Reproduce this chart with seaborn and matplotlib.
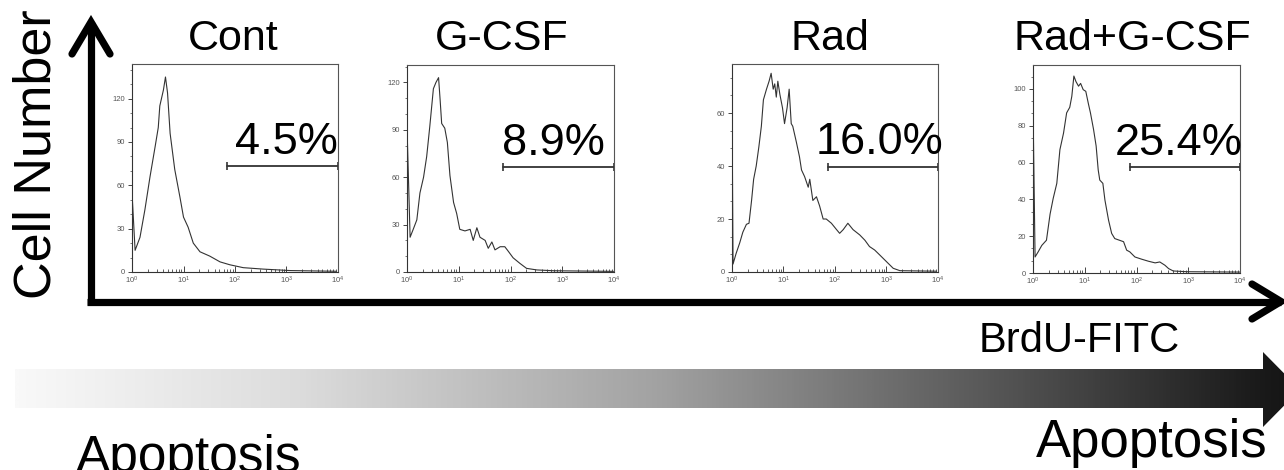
import numpy as np
import pandas as pd
import matplotlib
matplotlib.use("Agg")
import matplotlib.pyplot as plt
from matplotlib.colors import LinearSegmentedColormap
from matplotlib.path import Path
from matplotlib.patches import PathPatch
import seaborn as sns

# ---------------------------------------------------------------- data
groups = ["Cont", "G-CSF", "Rad", "Rad+G-CSF"]
percent_labels = ["4.5%", "8.9%", "16.0%", "25.4%"]

# BrdU-FITC histograms: position in decades (log10 intensity) and cell counts
cont_dec = [0.00, 0.06, 0.155, 0.25, 0.35, 0.45, 0.51, 0.54, 0.61, 0.65, 0.69, 0.74,
            0.83, 0.93, 1.00, 1.09, 1.19, 1.32, 1.51, 1.71, 1.90, 2.16, 2.55, 3.07, 3.97]
cont_cnt = [55, 15, 24, 43, 66, 87, 100, 115, 126, 135, 124, 96,
            71, 52, 38, 31, 20, 14, 11, 7, 5, 3, 2, 1, 0.5]

gcsf_dec = [0.00, 0.06, 0.12, 0.19, 0.25, 0.32, 0.38, 0.44, 0.51, 0.56, 0.61, 0.64,
            0.67, 0.73, 0.78, 0.83, 0.90, 0.96, 1.02, 1.12, 1.22, 1.28, 1.35, 1.41,
            1.51, 1.57, 1.64, 1.70, 1.80, 1.89, 1.96, 2.05, 2.18, 2.31, 2.51, 2.83, 3.99]
gcsf_cnt = [92, 22, 27, 33, 50, 60, 73, 92, 116, 120, 123, 109,
            94, 91, 82, 61, 44, 37, 27, 26, 27, 20, 28, 22,
            20, 15, 19, 14, 16, 16, 13, 9, 5.5, 2.3, 1.3, 0.8, 0.4]

rad_dec = [0.00, 0.02, 0.08, 0.15, 0.21, 0.28, 0.33, 0.38, 0.42, 0.47, 0.52, 0.57,
           0.61, 0.67, 0.72, 0.76, 0.80, 0.83, 0.86, 0.89, 0.93, 0.98, 1.02, 1.07,
           1.11, 1.15, 1.18, 1.25, 1.31, 1.35, 1.41, 1.48, 1.51, 1.57, 1.64, 1.70,
           1.77, 1.83, 1.93, 2.03, 2.09, 2.16, 2.25, 2.35, 2.48, 2.58, 2.67, 2.77,
           2.87, 3.00, 3.13, 3.26, 3.97]
rad_cnt = [65, 3, 7, 11, 15, 18, 18.4, 27, 35, 40, 47, 55,
           65, 69, 72, 75, 69, 71, 66, 72, 67, 62, 56, 62,
           69, 56, 55, 49, 43.5, 38.5, 36, 32, 35, 27, 28.4, 25,
           20, 20, 18.4, 16, 14.6, 16, 18.4, 16, 14, 12, 9.6, 8.3,
           6.4, 3.9, 1.4, 0.5, 0.3]

radg_dec = [0.00, 0.04, 0.10, 0.17, 0.26, 0.33, 0.39, 0.46, 0.52, 0.59, 0.65, 0.71,
            0.75, 0.79, 0.83, 0.88, 0.92, 0.97, 1.02, 1.07, 1.11, 1.17, 1.22, 1.26,
            1.29, 1.35, 1.39, 1.46, 1.52, 1.58, 1.67, 1.75, 1.81, 1.87, 1.97, 2.10,
            2.23, 2.36, 2.45, 2.55, 2.62, 2.71, 2.97, 4.00]
radg_cnt = [91, 8.7, 11.5, 15, 17.8, 32, 40.5, 48.7, 67, 76, 87, 90,
            96, 107, 104, 101.5, 103, 99.6, 98.7, 92, 87, 78, 69, 56,
            50.5, 48.7, 39.6, 28.7, 21.5, 18.7, 17.8, 17, 12.4, 11.5, 8.7, 7.5,
            6.4, 5.5, 6, 4.2, 2.4, 1.1, 0.7, 0.5]

hist_dec = [cont_dec, gcsf_dec, rad_dec, radg_dec]
hist_cnt = [cont_cnt, gcsf_cnt, rad_cnt, radg_cnt]

# positive gate: lower bound (intensity) and drawing level (counts)
gate_start = [69, 72, 72, 74]
gate_end = 10000
gate_level = [73.5, 66.7, 39.6, 57.6]

y_max = [144, 131, 78.5, 113]
y_ticks = [[0, 30, 60, 90, 120], [0, 30, 60, 90, 120],
           [0, 20, 40, 60], [0, 20, 40, 60, 80, 100]]
x_ticks = [1, 10, 100, 1000, 10000]
x_tick_labels = [r"$10^0$", r"$10^1$", r"$10^2$", r"$10^3$", r"$10^4$"]

# ---------------------------------------------------------------- layout
W, H = 1284, 470
# panel boxes in pixels: left, top, right, bottom
panel_px = [(132, 64, 338, 272), (407, 65, 614, 272),
            (732, 64, 938, 272), (1033, 65, 1240, 273)]
title_x = [233, 502, 830, 1132]
pct_right = [1.0, 0.957, 1.025, 1.015]

sns.set_style("white")
plt.rcParams["font.family"] = ["Liberation Sans", "DejaVu Sans"]
plt.rcParams["text.color"] = "black"
plt.rcParams["mathtext.fontset"] = "custom"
plt.rcParams["mathtext.rm"] = "Liberation Sans"
plt.rcParams["mathtext.it"] = "Liberation Sans"

fig = plt.figure(figsize=(W / 100, H / 100), dpi=100)

# full-figure canvas for the outer axes, arrows and labels (pixel units)
canvas = fig.add_axes([0, 0, 1, 1])
canvas.set_xlim(0, W)
canvas.set_ylim(H, 0)
canvas.axis("off")

# outer axis arrows
lw_axis = 5.2
canvas.plot([91, 91], [305, 22], color="black", lw=lw_axis, solid_capstyle="butt")
canvas.plot([72, 91, 110], [54, 22, 54], color="black", lw=lw_axis,
            solid_joinstyle="miter", solid_capstyle="round")
canvas.plot([87, 1281], [301.5, 301.5], color="black", lw=lw_axis, solid_capstyle="butt")
canvas.plot([1252, 1281, 1252], [284, 301.5, 319], color="black", lw=lw_axis,
            solid_joinstyle="miter", solid_capstyle="round")

# shaded apoptosis arrow
arrow_verts = [(15, 369), (1263, 369), (1263, 352), (1300, 389.5),
               (1263, 427), (1263, 408), (15, 408), (15, 369)]
arrow_path = Path(arrow_verts, [Path.MOVETO] + [Path.LINETO] * 6 + [Path.CLOSEPOLY])
patch = PathPatch(arrow_path, facecolor="none", edgecolor="none")
canvas.add_patch(patch)
shade = LinearSegmentedColormap.from_list(
    "shade", [(0.0, "#f9f9f9"), (0.22, "#dcdcdc"), (0.5, "#a2a2a2"),
              (0.75, "#5a5a5a"), (0.97, "#1a1a1a"), (1.0, "#141414")])
ramp = np.linspace(0, 1, 512)[None, :]
img = canvas.imshow(ramp, cmap=shade, extent=[15, 1300, 427, 352],
                    aspect="auto", interpolation="bilinear")
img.set_clip_path(patch)
canvas.set_xlim(0, W)
canvas.set_ylim(H, 0)

canvas.text(51, 154, "Cell Number", rotation=90, rotation_mode="anchor",
            ha="center", va="baseline", fontsize=37.5, color="black")
canvas.text(1180, 352, "BrdU-FITC", ha="right", va="baseline", fontsize=30,
            color="black")
canvas.text(1268, 457, "Apoptosis", ha="right", va="baseline", fontsize=38,
            color="black")
canvas.text(76, 472, "Apoptosis", ha="left", va="baseline", fontsize=37,
            color="black")

for i, g in enumerate(groups):
    canvas.text(title_x[i], 50, g, ha="center", va="baseline", fontsize=31,
                color="black")

# histogram panels
for i, g in enumerate(groups):
    l, t, r, b = panel_px[i]
    ax = fig.add_axes([l / W, 1 - b / H, (r - l) / W, (b - t) / H])
    df = pd.DataFrame({"intensity": 10 ** np.array(hist_dec[i]),
                       "count": hist_cnt[i]})
    sns.lineplot(data=df, x="intensity", y="count", ax=ax, color="#333333",
                 lw=0.8, sort=False)
    ax.set_xscale("log")
    ax.set_xlim(1, 10000)
    ax.set_ylim(0, y_max[i])
    ax.set_xticks(x_ticks)
    ax.set_xticklabels(x_tick_labels)
    ax.set_yticks(y_ticks[i])
    ax.set_xlabel("")
    ax.set_ylabel("")
    ax.yaxis.set_minor_locator(matplotlib.ticker.AutoMinorLocator(3))
    ax.tick_params(axis="x", which="major", direction="in", length=4, width=0.7,
                   labelsize=5.5, labelcolor="#555555", color="#444444", pad=2,
                   bottom=True)
    ax.tick_params(axis="x", which="minor", direction="in", length=2, width=0.6,
                   color="#444444", bottom=True)
    ax.tick_params(axis="y", which="major", direction="out", length=3, width=0.7,
                   labelsize=5.5, labelcolor="#555555", color="#444444", pad=2,
                   left=True)
    ax.tick_params(axis="y", which="minor", direction="out", length=1.5, width=0.5,
                   color="#444444", left=True)
    for side in ["top", "right", "bottom", "left"]:
        ax.spines[side].set_visible(True)
        ax.spines[side].set_color("#555555")
        ax.spines[side].set_linewidth(0.8)
    ax.spines["left"].set_color("#333333")
    ax.spines["bottom"].set_color("#333333")

    ax.plot([gate_start[i], gate_end], [gate_level[i], gate_level[i]],
            color="#333333", lw=1.3, marker="|", markersize=6, mew=1.2)
    ax.text(pct_right[i], 0.565, percent_labels[i], transform=ax.transAxes,
            ha="right", va="baseline", fontsize=32.5, color="black", clip_on=False)

fig.savefig("out.png", dpi=100)
